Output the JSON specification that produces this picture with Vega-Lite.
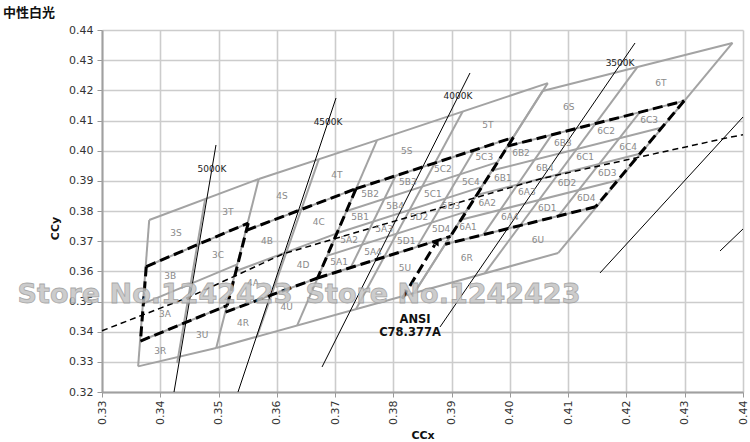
{
  "$schema": "https://vega.github.io/schema/vega-lite/v6.json",
  "width": 641,
  "height": 362,
  "autosize": {"type": "none"},
  "padding": {"left": 102, "top": 30, "right": 7, "bottom": 50},
  "background": "white",
  "title": {"text": "中性白光", "anchor": "start", "frame": "group", "dx": -99, "offset": 4, "font": "Noto Sans CJK SC", "fontSize": 13, "fontWeight": "bold", "color": "#111"},
  "config": {"view": {"stroke": null}, "font": "DejaVu Sans"},
  "datasets": {
    "gray": [
      {"g":1,"o":0,"x":0.3381,"y":0.3770},{"g":1,"o":1,"x":0.3362,"y":0.3285},
      {"g":2,"o":0,"x":0.3477,"y":0.3840},{"g":2,"o":1,"x":0.3429,"y":0.3296},
      {"g":3,"o":0,"x":0.3569,"y":0.3906},{"g":3,"o":1,"x":0.3496,"y":0.3346},
      {"g":4,"o":0,"x":0.3381,"y":0.3770},{"g":4,"o":1,"x":0.3569,"y":0.3906},
      {"g":5,"o":0,"x":0.3371,"y":0.3493},{"g":5,"o":1,"x":0.3533,"y":0.3624},
      {"g":6,"o":0,"x":0.3362,"y":0.3285},{"g":6,"o":1,"x":0.3496,"y":0.3346},
      {"g":7,"o":0,"x":0.3376,"y":0.3616},{"g":7,"o":1,"x":0.3551,"y":0.3760},
      {"g":8,"o":0,"x":0.3366,"y":0.3369},{"g":8,"o":1,"x":0.3515,"y":0.3487},
      {"g":9,"o":0,"x":0.3772,"y":0.4035},{"g":9,"o":1,"x":0.3635,"y":0.3421},
      {"g":10,"o":0,"x":0.3672,"y":0.3971},{"g":10,"o":1,"x":0.3566,"y":0.3384},
      {"g":11,"o":0,"x":0.3569,"y":0.3906},{"g":11,"o":1,"x":0.3772,"y":0.4035},
      {"g":12,"o":0,"x":0.3530,"y":0.3601},{"g":12,"o":1,"x":0.3703,"y":0.3726},
      {"g":13,"o":0,"x":0.3548,"y":0.3736},{"g":13,"o":1,"x":0.3736,"y":0.3874},
      {"g":14,"o":0,"x":0.3512,"y":0.3465},{"g":14,"o":1,"x":0.3670,"y":0.3578},
      {"g":15,"o":0,"x":0.3496,"y":0.3346},{"g":15,"o":1,"x":0.4083,"y":0.3661},
      {"g":16,"o":0,"x":0.3919,"y":0.4130},{"g":16,"o":1,"x":0.3736,"y":0.3475},
      {"g":17,"o":0,"x":0.4065,"y":0.4224},{"g":17,"o":1,"x":0.3836,"y":0.3529},
      {"g":18,"o":0,"x":0.3772,"y":0.4035},{"g":18,"o":1,"x":0.4065,"y":0.4224},
      {"g":19,"o":0,"x":0.3736,"y":0.3874},{"g":19,"o":1,"x":0.4006,"y":0.4044},
      {"g":20,"o":0,"x":0.3670,"y":0.3578},{"g":20,"o":1,"x":0.3898,"y":0.3716},
      {"g":21,"o":0,"x":0.3804,"y":0.3917},{"g":21,"o":1,"x":0.3727,"y":0.3613},
      {"g":22,"o":0,"x":0.3939,"y":0.4002},{"g":22,"o":1,"x":0.3841,"y":0.3682},
      {"g":23,"o":0,"x":0.3687,"y":0.3652},{"g":23,"o":1,"x":0.3925,"y":0.3798},
      {"g":24,"o":0,"x":0.3703,"y":0.3726},{"g":24,"o":1,"x":0.3952,"y":0.3880},
      {"g":25,"o":0,"x":0.3720,"y":0.3800},{"g":25,"o":1,"x":0.3979,"y":0.3962},
      {"g":26,"o":0,"x":0.4056,"y":0.4198},{"g":26,"o":1,"x":0.3836,"y":0.3529},
      {"g":27,"o":0,"x":0.4219,"y":0.4278},{"g":27,"o":1,"x":0.3957,"y":0.3594},
      {"g":28,"o":0,"x":0.4382,"y":0.4357},{"g":28,"o":1,"x":0.4083,"y":0.3661},
      {"g":29,"o":0,"x":0.4056,"y":0.4198},{"g":29,"o":1,"x":0.4382,"y":0.4357},
      {"g":30,"o":0,"x":0.3996,"y":0.4015},{"g":30,"o":1,"x":0.4299,"y":0.4165},
      {"g":31,"o":0,"x":0.3889,"y":0.3690},{"g":31,"o":1,"x":0.4147,"y":0.3814},
      {"g":32,"o":0,"x":0.4072,"y":0.4053},{"g":32,"o":1,"x":0.3954,"y":0.3721},
      {"g":33,"o":0,"x":0.4223,"y":0.4128},{"g":33,"o":1,"x":0.4083,"y":0.3783},
      {"g":34,"o":0,"x":0.3916,"y":0.3771},{"g":34,"o":1,"x":0.4185,"y":0.3902},
      {"g":35,"o":0,"x":0.3943,"y":0.3853},{"g":35,"o":1,"x":0.4223,"y":0.3990},
      {"g":36,"o":0,"x":0.3969,"y":0.3934},{"g":36,"o":1,"x":0.4261,"y":0.4077}
    ],
    "ansi": [
      {"g":"e1","o":0,"x":0.3376,"y":0.3616},{"g":"e1","o":1,"x":0.3551,"y":0.3760},
      {"g":"e2","o":0,"x":0.3376,"y":0.3616},{"g":"e2","o":1,"x":0.3366,"y":0.3369},
      {"g":"e3","o":0,"x":0.3366,"y":0.3369},{"g":"e3","o":1,"x":0.3515,"y":0.3487},
      {"g":"e4","o":0,"x":0.3551,"y":0.3760},{"g":"e4","o":1,"x":0.3515,"y":0.3487},
      {"g":"e5","o":0,"x":0.3548,"y":0.3736},{"g":"e5","o":1,"x":0.3736,"y":0.3874},
      {"g":"e6","o":0,"x":0.3512,"y":0.3465},{"g":"e6","o":1,"x":0.3670,"y":0.3578},
      {"g":"e7","o":0,"x":0.3736,"y":0.3874},{"g":"e7","o":1,"x":0.3670,"y":0.3578},
      {"g":"e8","o":0,"x":0.3736,"y":0.3874},{"g":"e8","o":1,"x":0.4006,"y":0.4044},
      {"g":"e9","o":0,"x":0.3670,"y":0.3578},{"g":"e9","o":1,"x":0.3898,"y":0.3716},
      {"g":"e10","o":0,"x":0.4006,"y":0.4044},{"g":"e10","o":1,"x":0.3898,"y":0.3716},
      {"g":"e11","o":0,"x":0.3996,"y":0.4015},{"g":"e11","o":1,"x":0.4299,"y":0.4165},
      {"g":"e12","o":0,"x":0.4299,"y":0.4165},{"g":"e12","o":1,"x":0.4147,"y":0.3814},
      {"g":"e13","o":0,"x":0.4147,"y":0.3814},{"g":"e13","o":1,"x":0.3889,"y":0.3690},
      {"g":"arrow","o":0,"x":0.3815,"y":0.3509},{"g":"arrow","o":1,"x":0.3871,"y":0.3688}
    ],
    "iso": [
      {"g":1,"o":0,"x":0.34236,"y":0.32},{"g":1,"o":1,"x":0.34956,"y":0.40188},
      {"g":2,"o":0,"x":0.35334,"y":0.32},{"g":2,"o":1,"x":0.37016,"y":0.41746},
      {"g":3,"o":0,"x":0.36776,"y":0.3283},{"g":3,"o":1,"x":0.39315,"y":0.42575},
      {"g":4,"o":0,"x":0.38801,"y":0.34156},{"g":4,"o":1,"x":0.42147,"y":0.43569},
      {"g":5,"o":0,"x":0.41546,"y":0.35946},{"g":5,"o":1,"x":0.44,"y":0.41116},
      {"g":6,"o":0,"x":0.43606,"y":0.36675},{"g":6,"o":1,"x":0.44,"y":0.37404}
    ],
    "locus": [
      {"o":0,"x":0.33,"y":0.3403},{"o":1,"x":0.3451,"y":0.3516},{"o":2,"x":0.3611,"y":0.3658},{"o":3,"x":0.3805,"y":0.3768},{"o":4,"x":0.4053,"y":0.3907},{"o":5,"x":0.4369,"y":0.4041},{"o":6,"x":0.44,"y":0.4053}
    ],
    "head": [{"x":0.3875,"y":0.3697}],
    "bins": [
      {"t":"3S","x":0.3427,"y":0.3727},{"t":"3T","x":0.3516,"y":0.3797},{"t":"3C","x":0.3499,"y":0.3654},{"t":"3B","x":0.3417,"y":0.3585},{"t":"3A","x":0.3408,"y":0.3459},{"t":"3U","x":0.3472,"y":0.3389},{"t":"3R","x":0.3400,"y":0.3336},
      {"t":"4R","x":0.3542,"y":0.3429},{"t":"4U","x":0.3617,"y":0.3482},{"t":"4A","x":0.3559,"y":0.3561},{"t":"4D","x":0.3645,"y":0.3621},{"t":"4B","x":0.3583,"y":0.3701},{"t":"4C","x":0.3672,"y":0.3764},{"t":"4S","x":0.3609,"y":0.3850},{"t":"4T","x":0.3703,"y":0.3919},
      {"t":"5A1","x":0.3707,"y":0.3631},{"t":"5A2","x":0.3724,"y":0.3704},{"t":"5A3","x":0.3784,"y":0.3740},{"t":"5A4","x":0.3765,"y":0.3664},
      {"t":"5B1","x":0.3743,"y":0.3780},{"t":"5B2","x":0.3760,"y":0.3856},{"t":"5B3","x":0.3825,"y":0.3896},{"t":"5B4","x":0.3803,"y":0.3817},
      {"t":"5C1","x":0.3868,"y":0.3856},{"t":"5C2","x":0.3885,"y":0.3939},{"t":"5C3","x":0.3956,"y":0.3979},{"t":"5C4","x":0.3933,"y":0.3896},
      {"t":"5D1","x":0.3822,"y":0.3701},{"t":"5D2","x":0.3844,"y":0.3780},{"t":"5D3","x":0.3899,"y":0.3817},{"t":"5D4","x":0.3882,"y":0.3740},
      {"t":"5S","x":0.3823,"y":0.3999},{"t":"5T","x":0.3962,"y":0.4085},{"t":"5U","x":0.3820,"y":0.3611},
      {"t":"6A1","x":0.3928,"y":0.3747},{"t":"6A2","x":0.3961,"y":0.3827},{"t":"6A3","x":0.4029,"y":0.3863},{"t":"6A4","x":0.4000,"y":0.3780},
      {"t":"6B1","x":0.3988,"y":0.3909},{"t":"6B2","x":0.4019,"y":0.3992},{"t":"6B3","x":0.4091,"y":0.4025},{"t":"6B4","x":0.4060,"y":0.3943},
      {"t":"6C1","x":0.4129,"y":0.3979},{"t":"6C2","x":0.4165,"y":0.4065},{"t":"6C3","x":0.4239,"y":0.4102},{"t":"6C4","x":0.4203,"y":0.4012},
      {"t":"6D1","x":0.4064,"y":0.3810},{"t":"6D2","x":0.4098,"y":0.3893},{"t":"6D3","x":0.4167,"y":0.3926},{"t":"6D4","x":0.4131,"y":0.3843},
      {"t":"6S","x":0.4101,"y":0.4145},{"t":"6T","x":0.4259,"y":0.4224},{"t":"6R","x":0.3926,"y":0.3644},{"t":"6U","x":0.4048,"y":0.3704}
    ],
    "cct": [
      {"t":"5000K","x":0.34888,"y":0.39393},{"t":"4500K","x":0.36879,"y":0.40951},{"t":"4000K","x":0.39109,"y":0.41812},{"t":"3500K","x":0.4189,"y":0.42906}
    ],
    "note": [
      {"t":"ANSI","x":0.38372,"y":0.34388},{"t":"C78.377A","x":0.38286,"y":0.33957}
    ],
    "wm": [
      {"t":"Store No.1242423","x":0.3391,"y":0.35216},{"t":"Store No.1242423","x":0.38852,"y":0.35216}
    ]
  },
  "encoding": {
    "x": {"field": "x", "type": "quantitative",
      "scale": {"domain": [0.33, 0.44], "nice": false, "zero": false},
      "axis": {"title": "CCx", "values": [0.33,0.34,0.35,0.36,0.37,0.38,0.39,0.40,0.41,0.42,0.43,0.44], "format": ".2f",
        "labelAngle": -90, "labelFontSize": 11, "labelColor": "#333", "labelPadding": 3, "labelOverlap": false,
        "tickSize": 5, "tickColor": "#999", "domainColor": "#a0a0a0", "domainWidth": 2,
        "gridColor": "#cccccc", "gridWidth": 1.6,
        "titleFontSize": 11, "titleFontWeight": "bold", "titleColor": "#111", "titlePadding": 5}},
    "y": {"field": "y", "type": "quantitative",
      "scale": {"domain": [0.32, 0.44], "nice": false, "zero": false},
      "axis": {"title": "CCy", "values": [0.32,0.33,0.34,0.35,0.36,0.37,0.38,0.39,0.40,0.41,0.42,0.43,0.44], "format": ".2f",
        "labelFontSize": 11, "labelColor": "#333", "labelPadding": 4, "labelOverlap": false,
        "tickSize": 5, "tickColor": "#999", "domainColor": "#a0a0a0", "domainWidth": 2,
        "gridColor": "#cccccc", "gridWidth": 1.6,
        "titleFontSize": 11, "titleFontWeight": "bold", "titleColor": "#111", "titleX": -42, "titleY": 198}}
  },
  "layer": [
    {"data": {"name": "gray"}, "mark": {"type": "line", "stroke": "#a3a3a3", "strokeWidth": 2},
     "encoding": {"detail": {"field": "g"}, "order": {"field": "o"}}},
    {"data": {"name": "iso"}, "mark": {"type": "line", "stroke": "#000", "strokeWidth": 1},
     "encoding": {"detail": {"field": "g"}, "order": {"field": "o"}}},
    {"data": {"name": "locus"}, "mark": {"type": "line", "stroke": "#000", "strokeWidth": 1.5, "strokeDash": [6, 4]},
     "encoding": {"order": {"field": "o"}}},
    {"data": {"name": "ansi"}, "mark": {"type": "line", "stroke": "#000", "strokeWidth": 3, "strokeDash": [10, 5]},
     "encoding": {"detail": {"field": "g"}, "order": {"field": "o"}}},
    {"data": {"name": "head"}, "mark": {"type": "point", "shape": "triangle-up", "filled": true, "color": "#000", "size": 50, "angle": 29, "opacity": 1}},
    {"data": {"name": "bins"}, "mark": {"type": "text", "fontSize": 9, "color": "#8a8a8a"},
     "encoding": {"text": {"field": "t"}}},
    {"data": {"name": "cct"}, "mark": {"type": "text", "fontSize": 9, "color": "#222"},
     "encoding": {"text": {"field": "t"}}},
    {"data": {"name": "note"}, "mark": {"type": "text", "fontSize": 11.5, "fontWeight": "bold", "color": "#111"},
     "encoding": {"text": {"field": "t"}}},
    {"data": {"name": "wm"}, "mark": {"type": "text", "fontSize": 27, "fontWeight": "bold", "color": "#c4c4c4", "stroke": "#9a9a9a", "strokeWidth": 0.8, "opacity": 0.85},
     "encoding": {"text": {"field": "t"}}}
  ]
}
